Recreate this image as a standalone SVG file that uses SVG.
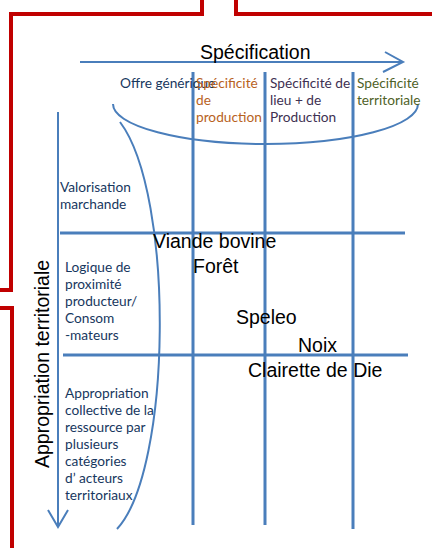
<svg xmlns="http://www.w3.org/2000/svg" width="432" height="548" viewBox="0 0 432 548">
<style>
.red{fill:none;stroke:#C00000;stroke-width:4;stroke-linejoin:miter}
.grid{fill:none;stroke:#4A7EBB;stroke-width:3}
.thin{fill:none;stroke:#4A7EBB;stroke-width:2}
.big{font-family:"Liberation Sans",Arial,sans-serif;font-size:19.5px;fill:#000}
.small{font-family:Lato,"Liberation Sans",sans-serif;font-size:13.7px}
.navy{fill:#17375E}
.orange{fill:#B8621E}
.purple{fill:#403152}
.green{fill:#4F6228}
</style>
<rect width="432" height="548" fill="#fff"/>
<g id="frame">
<path class="red" d="M202,0 V14 H11 V290 H0"/>
<path class="red" d="M0,308 H12 V548"/>
<path class="red" d="M236,0 V14 H432"/>
</g>
<g id="connectors">
<path class="thin" d="M80,62 H403 M385,52 L403,62 L383,72"/>
<path class="thin" d="M58,112 V527 M48,510 L58,527 L68,510"/>
<path class="grid" d="M193,72 V525 M265,72 V525 M353,72 V529 M60,233 H405 M63,355 H408"/>
<path class="thin" d="M113,104 A152.5,40 0 0 0 418,104"/>
<path class="thin" d="M120,122 C175,195 172,470 117,529"/>
</g>
<g id="title-spec"><text class="big" x="200" y="59">Spécification</text></g>
<g id="title-appro"><text class="big" transform="translate(49,468) rotate(-90)">Appropriation territoriale</text></g>
<g id="col-generic"><text class="small navy" x="120" y="88">Offre générique</text></g>
<g id="col-production"><text class="small orange" x="196" y="88">Spécificité<tspan x="196" y="105">de</tspan><tspan x="196" y="122">production</tspan></text></g>
<g id="col-lieu"><text class="small purple" x="270" y="88">Spécificité de<tspan x="270" y="105">lieu + de</tspan><tspan x="270" y="122">Production</tspan></text></g>
<g id="col-territoriale"><text class="small green" x="357" y="88">Spécificité<tspan x="357" y="105">territoriale</tspan></text></g>
<g id="row-valorisation"><text class="small navy" x="60" y="192">Valorisation<tspan x="60" y="209">marchande</tspan></text></g>
<g id="row-proximite"><text class="small navy" x="65" y="272">Logique de<tspan x="65" y="289">proximité</tspan><tspan x="65" y="306">producteur/</tspan><tspan x="65" y="323">Consom</tspan><tspan x="65" y="340">-mateurs</tspan></text></g>
<g id="row-collective"><text class="small navy" x="65" y="398">Appropriation<tspan x="65" y="415">collective de la</tspan><tspan x="65" y="432">ressource par</tspan><tspan x="65" y="449">plusieurs</tspan><tspan x="65" y="466">catégories</tspan><tspan x="65" y="483">d’ acteurs</tspan><tspan x="65" y="500">territoriaux</tspan></text></g>
<g id="viande"><text class="big" x="153" y="248">Viande bovine</text></g>
<g id="foret"><text class="big" x="193" y="273">Forêt</text></g>
<g id="speleo"><text class="big" x="236" y="324">Speleo</text></g>
<g id="noix"><text class="big" x="298" y="352">Noix</text></g>
<g id="clairette"><text class="big" x="248" y="377">Clairette de Die</text></g>
</svg>
